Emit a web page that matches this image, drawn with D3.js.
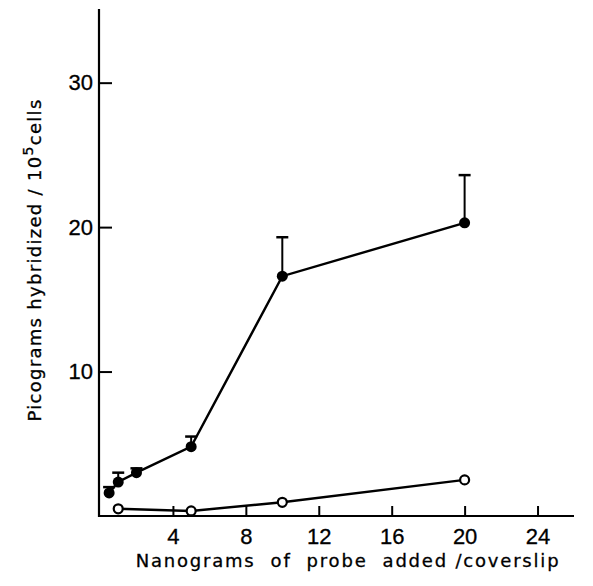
<!DOCTYPE html>
<html>
<head>
<meta charset="utf-8">
<script src="https://cdn.jsdelivr.net/npm/d3@7"></script>
<style>
  html, body { margin: 0; padding: 0; background: #fff; }
  svg { display: block; font-family: 'DejaVu Sans', Lato, sans-serif; }
  svg text { stroke: #000; stroke-width: 0.3px; }
</style>
</head>
<body>
<div id="chart"></div>
<script>
// probe added (ng / coverslip) and picograms hybridized / 10^5 cells
const doseFilled = [0.5, 1, 2, 5, 10, 20]
const meanFilled = [1.6, 2.35, 3.0, 4.8, 16.6, 20.3]
const errFilled  = [0.4, 0.65, 0.3, 0.7, 2.7, 3.3]

const doseOpen = [1, 5, 10, 20]
const meanOpen = [0.5, 0.35, 0.95, 2.5]

const xTicks = [4, 8, 12, 16, 20, 24]
const yTicks = [10, 20, 30]

const W = 593, H = 586

const svg = d3.select('#chart').append('svg')
  .attr('width', W).attr('height', H)

const x = d3.scaleLinear().domain([0, 26]).range([100, 574])
const y = d3.scaleLinear().domain([0, 35.1]).range([516, 9])

const filled = doseFilled.map((d, i) => ({ dose: d, value: meanFilled[i], err: errFilled[i] }))
const open = doseOpen.map((d, i) => ({ dose: d, value: meanOpen[i] }))

// ── axes ─────────────────────────────────────────────────────
const gX = svg.append('g').attr('transform', `translate(0,${y(0)})`)
  .call(d3.axisBottom(x).tickValues(xTicks).tickSize(-10).tickSizeOuter(0).tickPadding(12))
gX.select('.domain').attr('stroke', '#000').attr('stroke-width', 2.2)
  .attr('d', `M${x(0) - 1},0H${x(26)}`)
gX.selectAll('.tick line').attr('stroke', '#000').attr('stroke-width', 2)
gX.selectAll('text').style('font-size', '22px').attr('fill', '#000')

const gY = svg.append('g').attr('transform', `translate(${x(0) - 1},0)`)
  .call(d3.axisLeft(y).tickValues(yTicks).tickSize(-13).tickSizeOuter(0).tickPadding(6))
gY.select('.domain').attr('stroke', '#000').attr('stroke-width', 2.2)
  .attr('d', `M0,${y(35.1)}V${y(0) + 1}`)
gY.selectAll('.tick line').attr('stroke', '#000').attr('stroke-width', 2)
gY.selectAll('text').style('font-size', '22px').attr('fill', '#000')

// ── axis labels ──────────────────────────────────────────────
svg.append('text')
  .attr('x', 348).attr('y', 567)
  .attr('text-anchor', 'middle')
  .style('font-size', '18px').style('letter-spacing', '1.8px')
  .style('white-space', 'pre')
  .text('Nanograms  of  probe  added /coverslip')

const yl = svg.append('text')
  .attr('transform', 'translate(41,260) rotate(-90)')
  .attr('text-anchor', 'middle')
  .style('font-size', '18px').style('letter-spacing', '1.3px')
  .style('white-space', 'pre')
yl.append('tspan').text('Picograms hybridized / 10')
yl.append('tspan').attr('dy', -8).style('font-size', '14px').text('5')
yl.append('tspan').attr('dy', 8).text('cells')

// ── lines ────────────────────────────────────────────────────
const line = d3.line().x(d => x(d.dose)).y(d => y(d.value))

svg.append('path').datum(filled)
  .attr('d', line).attr('fill', 'none')
  .attr('stroke', '#000').attr('stroke-width', 2.4)

svg.append('path').datum(open)
  .attr('d', line).attr('fill', 'none')
  .attr('stroke', '#000').attr('stroke-width', 2.4)

// ── error bars (upper only) ──────────────────────────────────
const gErr = svg.append('g')
gErr.selectAll('.bar').data(filled).join('line')
  .attr('x1', d => x(d.dose)).attr('x2', d => x(d.dose))
  .attr('y1', d => y(d.value)).attr('y2', d => y(d.value + d.err))
  .attr('stroke', '#000').attr('stroke-width', 2)
gErr.selectAll('.cap').data(filled).join('line')
  .attr('x1', d => x(d.dose) - 6).attr('x2', d => x(d.dose) + 6)
  .attr('y1', d => y(d.value + d.err)).attr('y2', d => y(d.value + d.err))
  .attr('stroke', '#000').attr('stroke-width', 2.5)

// ── markers ──────────────────────────────────────────────────
svg.append('g').selectAll('circle').data(filled).join('circle')
  .attr('cx', d => x(d.dose)).attr('cy', d => y(d.value))
  .attr('r', 5.5).attr('fill', '#000')

svg.append('g').selectAll('circle').data(open).join('circle')
  .attr('cx', d => x(d.dose)).attr('cy', d => y(d.value))
  .attr('r', 4.5).attr('fill', '#fff')
  .attr('stroke', '#000').attr('stroke-width', 2.2)
</script>
</body>
</html>
